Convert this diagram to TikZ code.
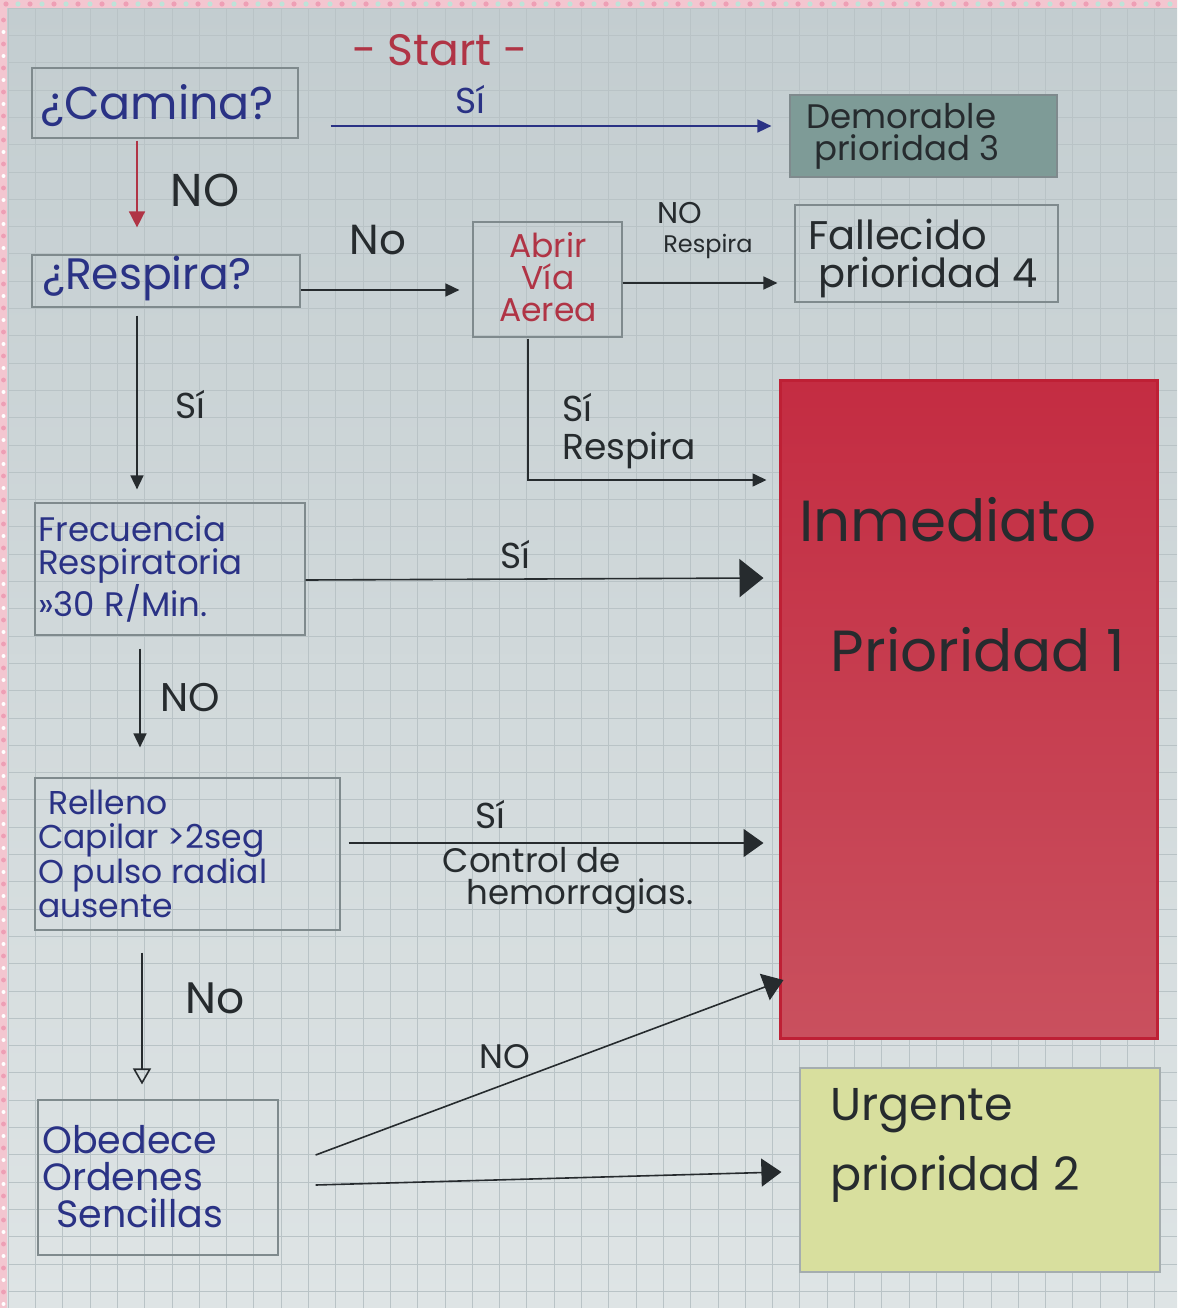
\documentclass[tikz,border=0pt]{standalone}
\usepackage{fontspec}
\setmainfont{Poppins}
\usetikzlibrary{arrows.meta,calc}
\definecolor{papertop}{HTML}{C3CDD0}
\definecolor{paperbot}{HTML}{DEE4E5}
\definecolor{gridc}{HTML}{B9C3C6}
\definecolor{inkblue}{HTML}{2A3285}
\definecolor{inkred}{HTML}{B03445}
\definecolor{inkdark}{HTML}{262B2E}
\definecolor{boxline}{HTML}{7F8A8D}
\definecolor{demfill}{HTML}{7E9B97}
\definecolor{redtop}{HTML}{C42C42}
\definecolor{redbot}{HTML}{C9505E}
\definecolor{redline}{HTML}{BE2035}
\definecolor{urgfill}{HTML}{D8DF9E}
\definecolor{pinkb}{HTML}{F3C6D0}
\definecolor{pinkd}{HTML}{EE9FB5}
\definecolor{tealb}{HTML}{BFE2D8}
\newcommand{\fsz}[2]{\fontsize{#1pt}{#2pt}\selectfont}
\tikzset{
  box/.style={draw=boxline, line width=1.2pt, minimum width=#1, inner sep=0pt},
  tx/.style={inner sep=0pt, align=left},
  arr/.style={draw=inkdark, line width=1.6pt, -{Triangle[length=14pt,width=13pt]}},
  bigarr/.style={draw=inkdark, line width=1.6pt, -{Triangle[length=24pt,width=38pt]}},
  midarr/.style={draw=inkdark, line width=1.6pt, -{Triangle[length=20pt,width=28pt]}},
  openarr/.style={draw=inkdark, line width=1.6pt, -{Triangle[open,length=16pt,width=18pt]}},
}
\begin{document}
\begin{tikzpicture}[x=1pt,y=-1pt]
\useasboundingbox (0,0) rectangle (1177,1308);
% paper
\shade[top color=papertop, bottom color=paperbot] (0,0) rectangle (1177,1308);
\foreach \i in {0,...,43} \draw[gridc, line width=0.5pt] ({8+27.3*\i},8) -- ({8+27.3*\i},1308);
\foreach \j in {0,...,47} \draw[gridc, line width=0.5pt] (8,{8+27.3*\j}) -- (1177,{8+27.3*\j});
% decorative border
\fill[pinkb] (0,0) rectangle (1177,8);
\fill[pinkb] (0,0) rectangle (7,1308);
\foreach \i in {0,...,48} {
  \fill[pinkd] ({6+24*\i},4) circle (2.6);
  \fill[tealb] ({18+24*\i},4) circle (2.6);
}
\foreach \j in {0,...,54} {
  \fill[pinkd] (3.5,{20+24*\j}) circle (2.4);
  \fill[white] (3.5,{32+24*\j}) circle (2.0);
}

% boxes
\node[box=266pt, minimum height=70pt] (camina) at (165,103) {};
\node[box=267pt, minimum height=82pt, fill=demfill] (demorable) at (923.5,136) {};
\node[box=268pt, minimum height=52pt] (respira) at (166,281) {};
\node[box=149pt, minimum height=115pt] (abrir) at (547.5,279.5) {};
\node[box=263pt, minimum height=97pt] (fallecido) at (926.5,253.5) {};
\node[box=377pt, minimum height=658pt, top color=redtop, bottom color=redbot, draw=redline, line width=3pt] (inmediato) at (968.5,709) {};
\node[box=270pt, minimum height=132pt] (frecuencia) at (170,569) {};
\node[box=305pt, minimum height=152pt] (relleno) at (187.5,854) {};
\node[box=240pt, minimum height=155pt] (obedece) at (158,1177.5) {};
\node[box=360pt, minimum height=204pt, fill=urgfill, draw=boxline!70] (urgente) at (980,1170) {};

% box texts
\node[tx, text=inkred, font=\fsz{44}{44}] (startT) at (440,50) {- Start -};
\node[tx, anchor=west, text=inkblue, font=\fsz{46}{46}] (caminaT) at (40,106) {¿Camina?};
\node[tx, anchor=west, text=inkdark, font=\fsz{34}{32}] (demT) at (806,136) {Demorable\\\hspace*{8pt}prioridad 3};
\node[tx, anchor=west, text=inkblue, font=\fsz{44}{44}] (respT) at (42,278) {¿Respira?};
\node[tx, align=center, text=inkred, font=\fsz{33}{32}] (abrirT) at (548,277) {Abrir\\Vía\\Aerea};
\node[tx, anchor=west, text=inkdark, font=\fsz{40}{38}] (fallT) at (808,258) {Fallecido\\\hspace*{10pt}prioridad 4};
\node[tx, text=inkdark, font=\fsz{58}{58}] (inmT1) at (948,520) {Inmediato};
\node[tx, text=inkdark, font=\fsz{58}{58}] (inmT2) at (978,650) {Prioridad 1};
\node[tx, anchor=west, text=inkblue, font=\fsz{34}{33}] (frecT) at (38,569) {Frecuencia\\Respiratoria\\»30 R/Min.};
\node[tx, anchor=west, text=inkblue, font=\fsz{33}{34}] (relT) at (38,854) {\hspace*{10pt}Relleno\\Capilar >2seg\\O pulso radial\\ausente};
\node[tx, anchor=west, text=inkblue, font=\fsz{38}{37}] (obeT) at (42,1177) {Obedece\\Ordenes\\\hspace*{14pt}Sencillas};
\node[tx, anchor=west, text=inkdark, font=\fsz{46}{70}] (urgT) at (830,1145) {Urgente\\prioridad 2};

% connectors
\draw[line width=1.6pt, draw=inkblue, -{Triangle[length=14pt,width=13pt]}, color=inkblue]
  ($(camina.east)+(32,23)$) -- ($(demorable.west)+(-18,-10)$);
\draw[line width=1.6pt, draw=inkred, -{Triangle[length=16pt,width=16pt]}, color=inkred]
  ($(camina.south)+(-28,2)$) -- ($(respira.north)+(-29,-27)$);
\draw[arr] ($(respira.east)+(0,9)$) -- ($(abrir.west)+(-13,10.5)$);
\draw[arr] ($(abrir.east)+(0,3.5)$) -- ($(fallecido.west)+(-17,29.5)$);
\draw[arr] ($(abrir.south)+(-19.5,1)$) |- ($(inmediato.west)+(-12,-229)$);
\draw[arr] ($(respira.south)+(-29,8)$) -- ($(frecuencia.north)+(-33,-13)$);
\draw[bigarr] ($(frecuencia.east)+(0,11)$) -- ($(inmediato.west)+(-15,-131)$);
\draw[arr] ($(frecuencia.south)+(-30,13)$) -- ($(relleno.north)+(-47.5,-30)$);
\draw[midarr] ($(relleno.east)+(8,-11)$) -- ($(inmediato.west)+(-15,134)$);
\draw[openarr] ($(relleno.south)+(-45.5,22)$) -- ($(obedece.north)+(-16,-15)$);
\draw[midarr] ($(obedece.east)+(37,-22.5)$) -- ($(inmediato.west)+(5,271)$);
\draw[midarr] ($(obedece.east)+(37,7.5)$) -- ($(urgente.west)+(-18,2)$);

% connector labels
\node[tx, text=inkblue, font=\fsz{36}{36}] (siTop) at (470,100) {Sí};
\node[tx, text=inkdark, font=\fsz{46}{46}] (noRed) at (205,190) {NO};
\node[tx, text=inkdark, font=\fsz{42}{42}] (noResp) at (378,240) {No};
\node[tx, text=inkdark, font=\fsz{30}{30}] (noR1) at (680,213) {NO};
\node[tx, text=inkdark, font=\fsz{24}{24}] (noR2) at (708,246) {Respira};
\node[tx, anchor=west, text=inkdark, font=\fsz{36}{36}] (siR) at (562,408) {Sí};
\node[tx, anchor=west, text=inkdark, font=\fsz{36}{36}] (respR) at (562,450) {Respira};
\node[tx, text=inkdark, font=\fsz{36}{36}] (si1) at (190,405) {Sí};
\node[tx, text=inkdark, font=\fsz{36}{36}] (si2) at (515,555) {Sí};
\node[tx, text=inkdark, font=\fsz{40}{40}] (no2) at (190,698) {NO};
\node[tx, text=inkdark, font=\fsz{36}{36}] (si3) at (490,815) {Sí};
\node[tx, text=inkdark, font=\fsz{34}{34}] (ctrl) at (532,860) {Control de};
\node[tx, text=inkdark, font=\fsz{34}{34}] (hem) at (580,896) {hemorragias.};
\node[tx, text=inkdark, font=\fsz{44}{44}] (no3) at (215,998) {No};
\node[tx, text=inkdark, font=\fsz{34}{34}] (no4) at (505,1057) {NO};
\end{tikzpicture}
\end{document}
